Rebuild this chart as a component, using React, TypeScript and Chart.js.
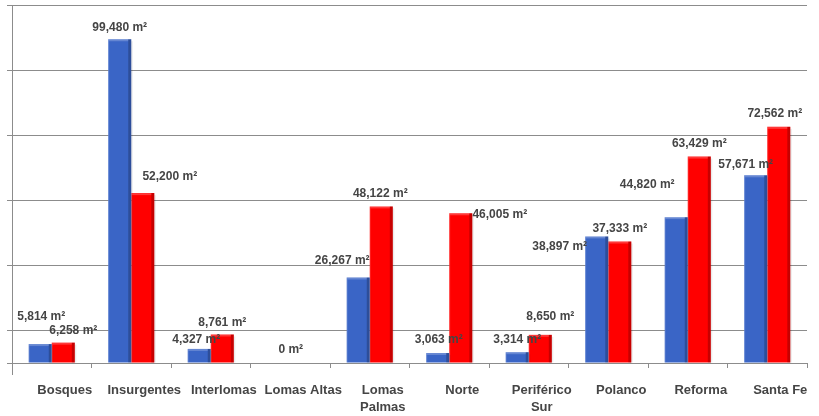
import React, { useEffect, useRef } from "react";
import { Chart, registerables } from "chart.js";

Chart.register(...registerables);

// Office space by corridor (m²)
const categories: (string | string[])[] = [
  "Bosques",
  "Insurgentes",
  "Interlomas",
  "Lomas Altas",
  ["Lomas", "Palmas"],
  "Norte",
  ["Periférico", "Sur"],
  "Polanco",
  "Reforma",
  "Santa Fe",
];

const blueValues = [5814, 99480, 4327, 0, 26267, 3063, 3314, 38897, 44820, 57671];
const redValues = [6258, 52200, 8761, 0, 48122, 46005, 8650, 37333, 63429, 72562];

// Gridline positions on the value axis
const gridTicks = [0, 10000, 30000, 50000, 70000, 90000, 110000];

// Label placement relative to each bar's top centre (null = no label)
const blueLabelOffsets: ([number, number] | null)[] = [
  [1, -27], [0, -12], [-3, -9], [12, -13], [-16, -17],
  [1, -13], [0, -13], [-37, 10], [-29, -32], [-10, -11],
];
const redLabelOffsets: ([number, number] | null)[] = [
  [10, -12], [27, -16], [0, -12], null, [-1, -13],
  [39, 1], [10, -18], [0, -13], [0, -13], [-4, -13],
];

const FONT = "'Liberation Sans', Arial, Helvetica, sans-serif";
const TEXT = "#454545";
const GRID = "#8c8c8c";

const fmt = (v: number) => v.toLocaleString("en-US") + " m²";

const bevelPlugin = {
  id: "bevel",
  afterDatasetsDraw(chart: any) {
    const ctx = chart.ctx;
    ctx.save();
    chart.data.datasets.forEach((_ds: any, di: number) => {
      const meta = chart.getDatasetMeta(di);
      meta.data.forEach((bar: any) => {
        const { x, y, base, width } = bar.getProps(["x", "y", "base", "width"], true);
        const h = base - y;
        if (h < 1) return;
        const l = x - width / 2;
        const r = x + width / 2;
        // darker right face
        ctx.fillStyle = "rgba(0,0,0,0.22)";
        ctx.fillRect(r - 3, y, 3, h);
        // lighter top edge
        ctx.fillStyle = "rgba(255,255,255,0.22)";
        ctx.fillRect(l, y, width - 3, 2);
        // faint left highlight
        ctx.fillStyle = "rgba(255,255,255,0.15)";
        ctx.fillRect(l, y + 2, 1, h - 2);
        // soft shadow beside the bar
        ctx.fillStyle = "rgba(0,0,0,0.08)";
        ctx.fillRect(r, y + 2, 1.5, h - 2);
      });
    });
    ctx.restore();
  },
};

const valueLabelPlugin = {
  id: "valueLabels",
  afterDatasetsDraw(chart: any) {
    const ctx = chart.ctx;
    ctx.save();
    ctx.font = `bold 12px ${FONT}`;
    ctx.fillStyle = TEXT;
    ctx.textAlign = "center";
    ctx.textBaseline = "middle";
    const offsets = [blueLabelOffsets, redLabelOffsets];
    chart.data.datasets.forEach((ds: any, di: number) => {
      const meta = chart.getDatasetMeta(di);
      meta.data.forEach((bar: any, i: number) => {
        const off = offsets[di][i];
        if (!off) return;
        const { x, y } = bar.getProps(["x", "y"], true);
        ctx.fillText(fmt(ds.data[i]), x + off[0], y + off[1]);
      });
    });
    // value axis line continues a little below the category axis
    const { left, bottom } = chart.chartArea;
    ctx.strokeStyle = GRID;
    ctx.lineWidth = 1;
    ctx.beginPath();
    ctx.moveTo(Math.round(left) + 0.5, bottom);
    ctx.lineTo(Math.round(left) + 0.5, bottom + 12);
    ctx.stroke();
    ctx.restore();
  },
};

export default function App() {
  const canvasRef = useRef<HTMLCanvasElement | null>(null);

  useEffect(() => {
    if (!canvasRef.current) return;
    const chart = new Chart(canvasRef.current, {
      type: "bar",
      data: {
        labels: categories,
        datasets: [
          {
            label: "A",
            data: blueValues,
            backgroundColor: "#3a65c6",
            borderWidth: 0,
            categoryPercentage: 0.58,
            barPercentage: 1,
          },
          {
            label: "B",
            data: redValues,
            backgroundColor: "#ff0000",
            borderWidth: 0,
            categoryPercentage: 0.58,
            barPercentage: 1,
          },
        ],
      },
      options: {
        responsive: false,
        animation: false,
        devicePixelRatio: 1,
        layout: { padding: { top: 5, right: 12, left: 0, bottom: 0 } },
        plugins: {
          legend: { display: false },
          tooltip: { enabled: false },
        },
        scales: {
          x: {
            offset: true,
            grid: {
              offset: true,
              drawOnChartArea: false,
              drawTicks: true,
              tickLength: 5,
              color: GRID,
            },
            border: { color: GRID },
            ticks: {
              autoSkip: false,
              maxRotation: 0,
              padding: 14,
              labelOffset: 13,
              color: TEXT,
              font: { family: FONT, size: 13, weight: "bold", lineHeight: 1.3 },
            },
            afterFit: (scale: any) => {
              scale.height = 53;
            },
          },
          y: {
            min: 0,
            max: 110000,
            afterBuildTicks: (scale: any) => {
              scale.ticks = gridTicks.map((v) => ({ value: v }));
            },
            grid: { color: GRID, tickLength: 5, drawTicks: true },
            border: { color: GRID },
            ticks: { display: false },
            afterFit: (scale: any) => {
              scale.width = 12;
            },
          },
        },
      },
      plugins: [bevelPlugin, valueLabelPlugin],
    });
    return () => chart.destroy();
  }, []);

  return (
    <div style={{ position: "fixed", left: 0, top: 0, width: 819, height: 416, background: "#fff" }}>
      <canvas ref={canvasRef} width={819} height={416} />
    </div>
  );
}
